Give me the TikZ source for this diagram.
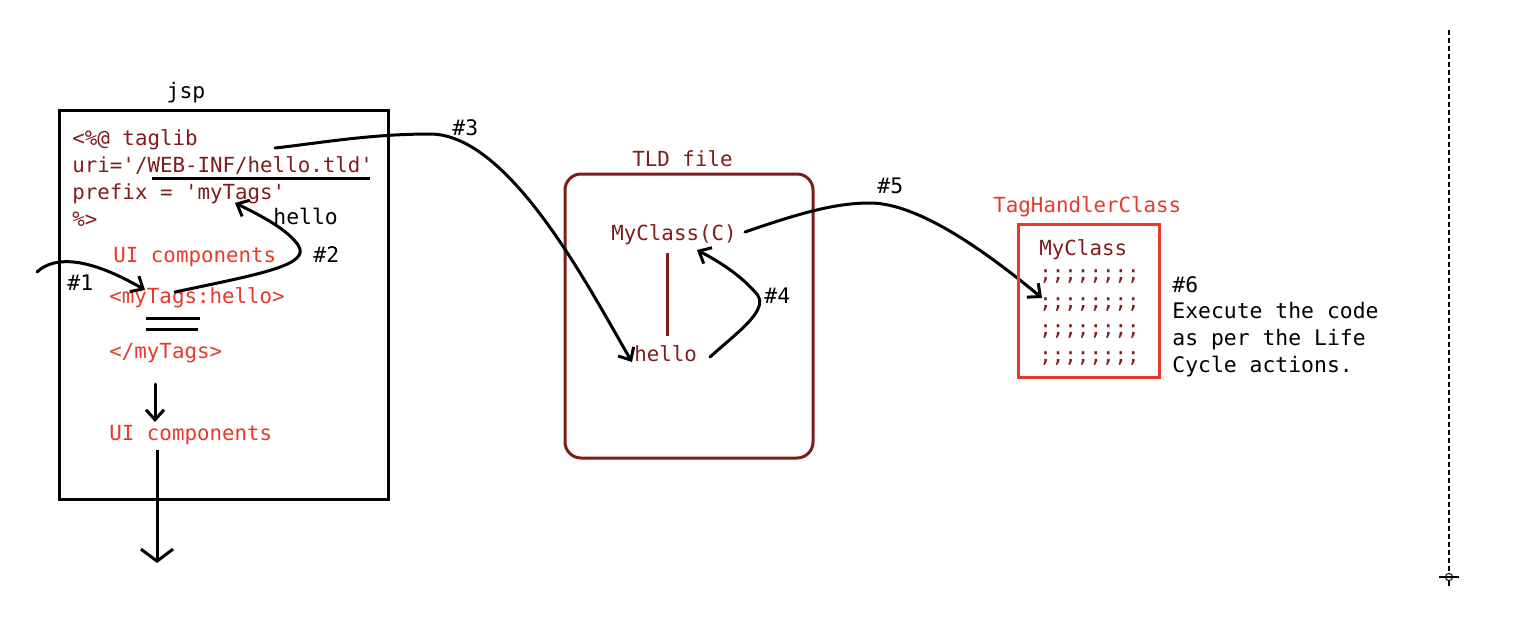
\documentclass[tikz,border=0pt]{standalone}
\usepackage{fontspec}
\newfontfamily\codefont{DejaVu Sans Mono}
\usetikzlibrary{arrows.meta}
\definecolor{maroon}{HTML}{7F1D1D}
\definecolor{redc}{HTML}{E8392A}
\tikzset{
  txt/.style={inner sep=0pt, anchor=base west, font=\codefont\fontsize{10.4}{12}\selectfont},
  mtxt/.style={txt, text=maroon},
  rtxt/.style={txt, text=redc},
  btxt/.style={txt, text=black, font=\codefont\fontsize{10.7}{12}\selectfont},
  conn/.style={line width=1.5pt, line cap=round, -{Straight Barb[length=5pt,width=9pt,line width=1.5pt]}},
  bigconn/.style={line width=1.5pt, -{Straight Barb[length=6pt,width=16pt,line width=1.5pt]}},
  jspbox/.style={draw=black, line width=1.5pt, inner sep=0pt},
  tldbox/.style={draw=maroon, line width=1.5pt, rounded corners=8pt, inner sep=0pt},
  tagbox/.style={draw=redc, line width=1.5pt, inner sep=0pt},
  strokeline/.style={line width=1.5pt}
}
\begin{document}
\begin{tikzpicture}[x=0.5pt,y=-0.5pt]
\useasboundingbox (0,0) rectangle (1536,638);
\fill[white] (0,0) rectangle (1536,638);

% ---- JSP box
\node[jspbox, minimum width=164.5pt, minimum height=194.5pt] (jspb) at (223.5,304.5) {};
\node[btxt, anchor=base] (jsplab) at (186,98) {jsp};
\node[mtxt] (l1) at (72,145) {<\%@ taglib};
\node[mtxt] (l2) at (72,172) {uri='/WEB-INF/hello.tld'};
\node[mtxt] (l3) at (72,199) {prefix = 'myTags'};
\node[mtxt] (l4) at (72,226) {\%>};
\node[btxt] (hello1) at (273,224) {hello};
\node[rtxt] (ui1) at (113,262) {UI components};
\node[btxt] (n2) at (313,262) {\#2};
\node[btxt] (n1) at (67,290) {\#1};
\node[rtxt] (open) at (109,303) {<myTags:hello>};
\node[rtxt] (close) at (109,358) {</myTags>};
\node[rtxt] (ui2) at (109,440) {UI components};

\coordinate (ulA) at (152,178); \coordinate (ulB) at (370,178);
\draw[strokeline] (ulA) -- (ulB);
\coordinate (d1a) at (146,318); \coordinate (d1b) at (200,318);
\coordinate (d2a) at (146,329); \coordinate (d2b) at (198,329);
\draw[strokeline] (d1a) -- (d1b);
\draw[strokeline] (d2a) -- (d2b);

\coordinate (sa) at (155,384); \coordinate (sb) at (155,422);
\draw[conn] (sa) -- (sb);
\coordinate (la) at (157,450); \coordinate (lb) at (157,563);
\draw[bigconn] (la) -- (lb);

% #1
\coordinate (in1) at (37,272);
\coordinate (t1) at (145,290);
\draw[conn] (in1) .. controls (55,255) and (90,258) .. (t1);
% #2
\coordinate (s2) at (175,292);
\coordinate (m2) at (298,245);
\coordinate (t2) at (235,203);
\draw[conn] (s2) .. controls (260,274) and (312,265) .. (m2) .. controls (288,230) and (262,216) .. (t2);

% ---- TLD box
\node[tldbox, minimum width=124pt, minimum height=142pt] (tldb) at (689,316) {};
\node[mtxt] (tldlab) at (632,166) {TLD file};
\node[mtxt] (mycc) at (611,240) {MyClass(C)};
\node[mtxt] (hello2) at (634,361) {hello};
\node[btxt] (n4) at (764,303) {\#4};
\node[btxt] (n3) at (452,135) {\#3};
\node[btxt] (n5) at (877,193) {\#5};
\coordinate (va) at (667,253); \coordinate (vb) at (667,336);
\draw[line width=1.5pt, maroon] (va) -- (vb);

% #3
\coordinate (s3) at (275,148);
\coordinate (m3) at (430,134);
\coordinate (t3) at (632,362);
\draw[conn] (s3) .. controls (320,143) and (370,134) .. (m3) .. controls (510,134) and (590,290) .. (t3);
% #4
\coordinate (s4) at (710,357);
\coordinate (m4) at (755,292);
\coordinate (t4) at (697,250);
\draw[conn] (s4) .. controls (740,330) and (772,308) .. (m4) .. controls (740,275) and (720,262) .. (t4);
% #5
\coordinate (s5) at (745,232);
\coordinate (m5) at (870,203);
\coordinate (t5) at (1042,298);
\draw[conn] (s5) .. controls (800,213) and (835,203) .. (m5) .. controls (920,203) and (990,255) .. (t5);

% ---- Tag handler
\node[rtxt] (thlab) at (993,212) {TagHandlerClass};
\node[tagbox, minimum width=70.5pt, minimum height=76.5pt] (tagb) at (1088.5,300.5) {};
\node[mtxt] (mycls) at (1039,255) {MyClass};
\node[mtxt] (r1) at (1039,280) {;;;;;;;;};
\node[mtxt] (r2) at (1039,308) {;;;;;;;;};
\node[mtxt] (r3) at (1039,335) {;;;;;;;;};
\node[mtxt] (r4) at (1039,362) {;;;;;;;;};
\node[btxt] (n6) at (1172,292) {\#6};
\node[btxt] (e1) at (1172,318) {Execute the code};
\node[btxt] (e2) at (1172,345) {as per the Life};
\node[btxt] (e3) at (1172,372) {Cycle actions.};

% ---- dashed guide with crosshair
\coordinate (g1) at (1449,30);
\coordinate (g2) at (1449,574);
\draw[line width=0.6pt, dash pattern=on 2.5pt off 1.5pt] (g1) -- (g2);
\coordinate (cx) at (1449,577);
\draw[line width=0.5pt] (cx) circle[radius=1.8pt];
\coordinate (h1) at (1439,577); \coordinate (h2) at (1459,577);
\draw[line width=0.6pt] (h1) -- (h2);
\coordinate (v1) at (1449,580); \coordinate (v2) at (1449,586);
\draw[line width=0.6pt] (v1) -- (v2);
\end{tikzpicture}
\end{document}
